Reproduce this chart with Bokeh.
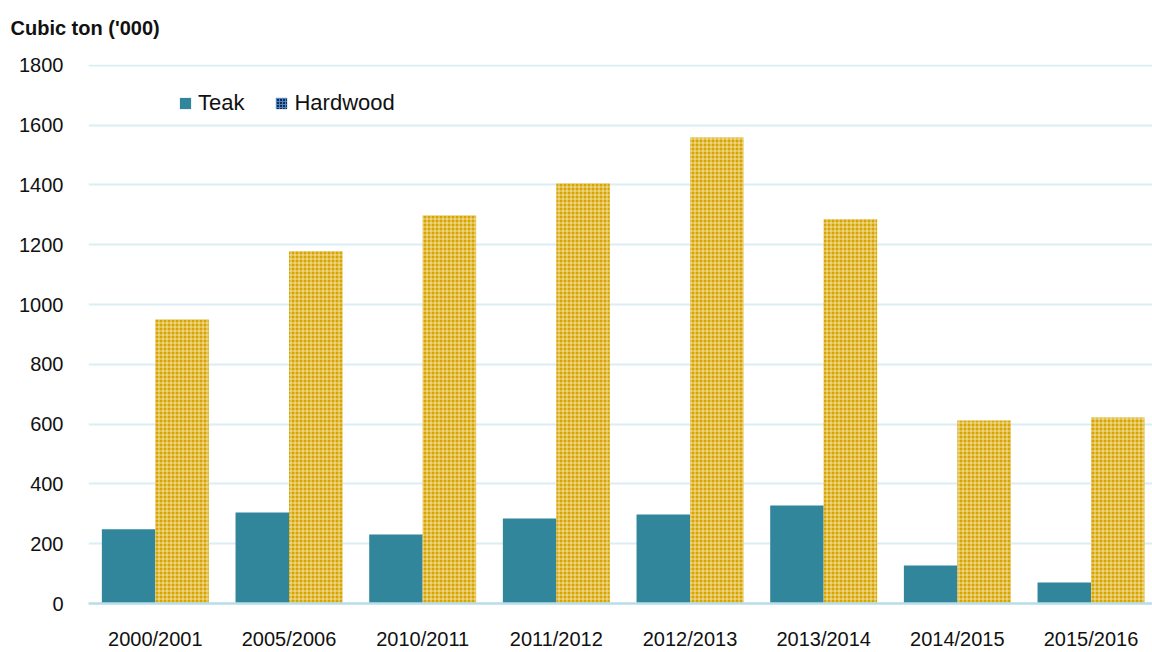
from bokeh.plotting import figure
from bokeh.models import Range1d, FixedTicker, Legend, LegendItem, ColumnDataSource
from bokeh.transform import dodge
from bokeh.embed import file_html
from bokeh.resources import INLINE

periods = ["2000/2001", "2005/2006", "2010/2011", "2011/2012",
           "2012/2013", "2013/2014", "2014/2015", "2015/2016"]
teak = [248, 304, 231, 284, 298, 328, 127, 70]
hardwood = [950, 1178, 1298, 1405, 1559, 1285, 612, 622]
y_ticks = [0, 200, 400, 600, 800, 1000, 1200, 1400, 1600, 1800]
unit_title = "Cubic ton ('000)"

FONT = "Liberation Sans"
TEAK_COLOR = "#31869B"
HARD_COLOR = "#D8A500"

centers = [i + 0.5 for i in range(len(periods))]
src = ColumnDataSource(dict(x=centers, teak=teak, hardwood=hardwood))

p = figure(width=1152, height=652,
           x_range=Range1d(0, 7.96), y_range=Range1d(0, 1803),
           output_backend="svg", toolbar_location=None,
           min_border_left=88, min_border_right=0,
           min_border_top=64, min_border_bottom=49)

r_teak = p.vbar(x=dodge("x", -0.2, range=p.x_range), top="teak", width=0.4,
                source=src, fill_color=TEAK_COLOR, line_color=None)
r_hard = p.vbar(x=dodge("x", 0.2, range=p.x_range), top="hardwood", width=0.4,
                source=src, fill_color=HARD_COLOR, line_color=None,
                hatch_pattern="+", hatch_color="white", hatch_alpha=0.6,
                hatch_scale=4, hatch_weight=1)
# hidden renderer that only supplies the dark patterned legend swatch
r_leg = p.vbar(x=dodge("x", 0.2, range=p.x_range), top="hardwood", width=0.4,
               source=src, fill_color="#1C2A45", line_color=None,
               hatch_pattern="+", hatch_color="#4D8FD6", hatch_alpha=0.9,
               hatch_scale=3, hatch_weight=1, visible=False)

legend = Legend(items=[LegendItem(label="Teak", renderers=[r_teak]),
                       LegendItem(label="Hardwood", renderers=[r_leg])],
                location=(90, 487), orientation="horizontal",
                border_line_alpha=0, background_fill_alpha=0,
                inactive_fill_alpha=0,
                label_text_font=FONT, label_text_font_size="22px",
                label_text_color="#111111",
                glyph_width=14, glyph_height=14, spacing=30,
                label_standoff=6, padding=0, margin=0)
p.add_layout(legend)

# trailing empty line lifts the title higher inside the top border
p.title.text = unit_title + "\n"
p.title.align = "left"
p.title.offset = -78
p.title.standoff = 8
p.title.text_font = FONT
p.title.text_font_size = "20px"
p.title.text_font_style = "bold"
p.title.text_color = "#111111"

p.xaxis.ticker = FixedTicker(ticks=centers)
p.xaxis.major_label_overrides = {c: lab for c, lab in zip(centers, periods)}
p.xaxis.major_tick_line_color = None
p.xaxis.major_tick_out = 0
p.xaxis.major_tick_in = 0
p.xaxis.minor_tick_line_color = None
p.xaxis.axis_line_color = "#B7DDE8"
p.xaxis.axis_line_width = 2.5
p.xaxis.major_label_text_font = FONT
p.xaxis.major_label_text_font_size = "20px"
p.xaxis.major_label_text_color = "#111111"
p.xaxis.major_label_standoff = 24

p.yaxis.ticker = FixedTicker(ticks=y_ticks)
p.yaxis.axis_line_color = None
p.yaxis.major_tick_line_color = None
p.yaxis.major_tick_out = 0
p.yaxis.major_tick_in = 0
p.yaxis.minor_tick_line_color = None
p.yaxis.major_label_text_font = FONT
p.yaxis.major_label_text_font_size = "20px"
p.yaxis.major_label_text_color = "#111111"
p.yaxis.major_label_standoff = 25

p.xgrid.grid_line_color = None
p.ygrid.grid_line_color = "#DAEEF4"
p.ygrid.grid_line_width = 2
p.outline_line_color = None
p.background_fill_color = "white"
p.border_fill_color = "white"

open("out.html", "w").write(file_html(p, INLINE))
